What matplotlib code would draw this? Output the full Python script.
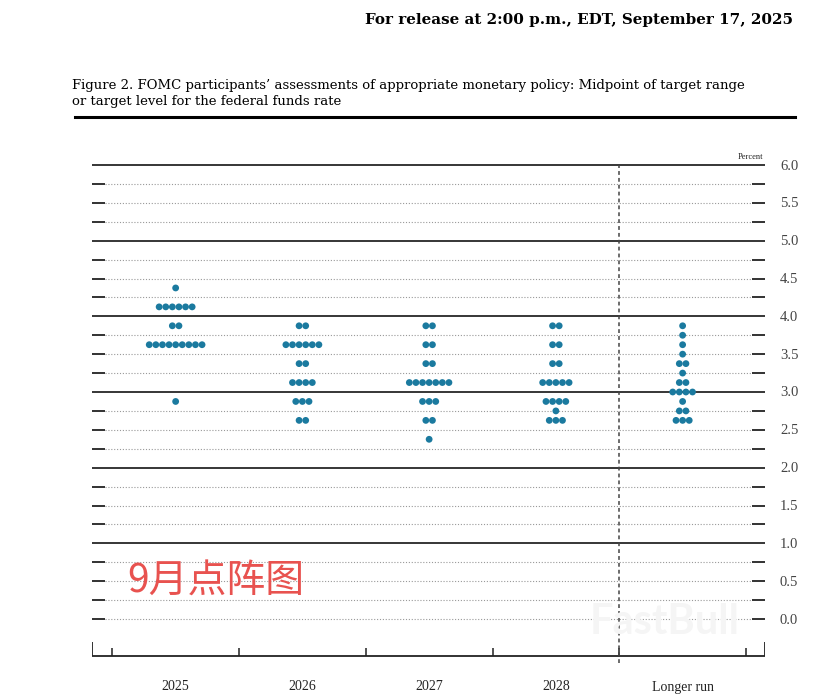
import matplotlib.pyplot as plt
import numpy as np

# dot plot data: (year index, rate midpoint, number of participants)
categories = ["2025", "2026", "2027", "2028", "Longer run"]

rates_2025 = [4.375, 4.125, 3.875, 3.625, 2.875]
counts_2025 = [1, 6, 2, 9, 1]

rates_2026 = [3.875, 3.625, 3.375, 3.125, 2.875, 2.625]
counts_2026 = [2, 6, 2, 4, 3, 2]

rates_2027 = [3.875, 3.625, 3.375, 3.125, 2.875, 2.625, 2.375]
counts_2027 = [2, 2, 2, 7, 3, 2, 1]

rates_2028 = [3.875, 3.625, 3.375, 3.125, 2.875, 2.75, 2.625]
counts_2028 = [2, 2, 2, 5, 4, 1, 3]

rates_lr = [3.875, 3.75, 3.625, 3.5, 3.375, 3.25, 3.125, 3.0, 2.875, 2.75, 2.625]
counts_lr = [1, 1, 1, 1, 2, 1, 2, 4, 1, 2, 3]

all_rates = [rates_2025, rates_2026, rates_2027, rates_2028, rates_lr]
all_counts = [counts_2025, counts_2026, counts_2027, counts_2028, counts_lr]

y_levels = np.arange(0, 6.01, 0.25)
y_labels = np.arange(0, 6.01, 0.5)

dot_color = "#1b7a9f"
serif = ["Liberation Serif", "DejaVu Serif"]
latexish = ["DejaVu Serif"]

W, H = 815, 694
fig = plt.figure(figsize=(W / 100, H / 100), dpi=100)

# axes placed in pixel terms of the reference
x0, x1 = -0.66, 4.65
px_per_x = (765 - 92) / (x1 - x0)
px_per_y = (619 - 165) / 6.0
ytop = 6.0 + 5 / px_per_y
ybot = -(670 - 619) / px_per_y
ax = fig.add_axes([92 / W, 1 - 670 / H, (765 - 92) / W, (670 - 160) / H])
ax.set_xlim(x0, x1)
ax.set_ylim(ybot, ytop)
ax.axis("off")

tick_len = 13 / px_per_x
for y in y_levels:
    if abs(y - round(y)) < 1e-9 and y > 0:
        ax.hlines(y, x0, x1, color="black", lw=1.1)
    else:
        ax.hlines(y, x0 + tick_len, x1 - tick_len, color="#999999", lw=0.8,
                  linestyles=(0, (1, 1.6)))
        ax.hlines(y, x0, x0 + tick_len, color="#222222", lw=1.3)
        ax.hlines(y, x1 - tick_len, x1, color="#222222", lw=1.3)

for y in y_labels:
    ax.text(x1 + 15 / px_per_x, y - 1 / px_per_y, f"{y:.1f}", ha="left", va="center",
            fontsize=10.5, family=serif, color="#444444", clip_on=False)

ax.text(x1 - 2 / px_per_x, 6.0 + 8 / px_per_y, "Percent", ha="right", va="center",
        fontsize=6, family=serif, color="#222222")

# bottom axis
y_axis = -(656 - 619) / px_per_y
ax.hlines(y_axis, x0, x1, color="#222222", lw=1.3)
for xs in np.arange(-0.5, 4.6, 1.0):
    ax.vlines(xs, y_axis, y_axis + 8 / px_per_y, color="#222222", lw=1.1)
for xe in [x0, x1]:
    ax.vlines(xe, y_axis, y_axis + 14 / px_per_y, color="#222222", lw=1.3)
ax.vlines(3.5, -(663 - 619) / px_per_y, 6.0, color="#444444", lw=1.1,
          linestyles=(0, (2.5, 2)))

for i, name in enumerate(categories):
    ax.text(i, -(687 - 619) / px_per_y, name, ha="center", va="center",
            fontsize=10, family=serif, color="#222222", clip_on=False)

# dots
spacing = 6.6 / px_per_x
for i, (rates, counts) in enumerate(zip(all_rates, all_counts)):
    for r, n in zip(rates, counts):
        xs = i + (np.arange(n) - (n - 1) / 2) * spacing
        ax.scatter(xs, [r] * n, s=24, color=dot_color, edgecolors="none",
                   zorder=3, clip_on=False)

# header and caption
fig.text(793 / W, 1 - 20 / H, "For release at 2:00 p.m., EDT, September 17, 2025",
         ha="right", va="center", fontsize=10.9, fontweight="bold", family=latexish)
fig.text(72 / W, 1 - 85 / H,
         "Figure 2. FOMC participants\u2019 assessments of appropriate monetary policy: Midpoint of target range",
         ha="left", va="center", fontsize=9.55, family=latexish)
fig.text(72 / W, 1 - 102 / H, "or target level for the federal funds rate",
         ha="left", va="center", fontsize=9.55, family=latexish)
fig.add_artist(plt.Line2D([75 / W, 795 / W], [1 - 117 / H, 1 - 117 / H],
                          color="black", lw=2.2))

# watermarks
fig.text(127 / W, 1 - 582 / H, "9月点阵图", ha="left", va="center", fontsize=28,
         color="#e8524f", family=["Noto Sans CJK SC", "DejaVu Sans"])
fig.text(665 / W, 1 - 622 / H, "FastBull", ha="center", va="center", fontsize=30,
         fontweight="bold", color="#f5f5f5", family=["Lato", "DejaVu Sans"], zorder=0)

fig.savefig("out.png", dpi=100)
